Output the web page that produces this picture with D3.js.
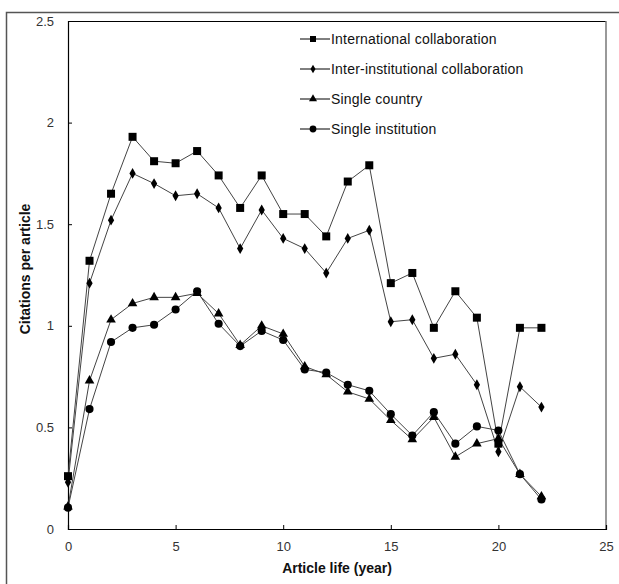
<!DOCTYPE html>
<html>
<head>
<meta charset="utf-8">
<script src="https://cdn.jsdelivr.net/npm/d3@7"></script>
<style>
  body { margin: 0; background: #fff; }
  svg { display: block; font-family: "Liberation Sans", Arial, sans-serif; }
</style>
</head>
<body>
<div id="chart-area"></div>
<script>
const years = d3.range(0, 23);
const international = [0.26, 1.32, 1.65, 1.93, 1.81, 1.80, 1.86, 1.74, 1.58, 1.74, 1.55, 1.55, 1.44, 1.71, 1.79, 1.21, 1.26, 0.99, 1.17, 1.04, 0.42, 0.99, 0.99];
const interInstitutional = [0.23, 1.21, 1.52, 1.75, 1.70, 1.64, 1.65, 1.58, 1.38, 1.57, 1.43, 1.38, 1.26, 1.43, 1.47, 1.02, 1.03, 0.84, 0.86, 0.71, 0.38, 0.70, 0.60];
const singleCountry = [0.11, 0.73, 1.03, 1.11, 1.14, 1.14, 1.16, 1.06, 0.905, 1.00, 0.96, 0.80, 0.76, 0.675, 0.64, 0.535, 0.44, 0.55, 0.355, 0.42, 0.445, 0.27, 0.16];
const singleInstitution = [0.105, 0.59, 0.92, 0.99, 1.005, 1.08, 1.17, 1.01, 0.90, 0.975, 0.93, 0.785, 0.77, 0.71, 0.68, 0.565, 0.46, 0.575, 0.42, 0.505, 0.485, 0.27, 0.145];
const xTicks = [0, 5, 10, 15, 20, 25];
const yTicks = [0, 0.5, 1, 1.5, 2, 2.5];

const seriesList = [
  {name: 'International collaboration', values: international, symbol: d3.symbolSquare, size: 64, legendSize: 36},
  {name: 'Inter-institutional collaboration', values: interInstitutional, symbol: d3.symbolDiamond, size: 34, legendSize: 22},
  {name: 'Single country', values: singleCountry, symbol: d3.symbolTriangle, size: 40, legendSize: 28},
  {name: 'Single institution', values: singleInstitution, symbol: d3.symbolCircle, size: 52, legendSize: 36}
];

const margin = {left: 68, right: 13, top: 21, bottom: 55};
const width = 606 - margin.left;
const height = 529 - margin.top;

const svg = d3.select('#chart-area').append('svg')
  .attr('width', 619)
  .attr('height', 584);

// outer frame
svg.append('rect')
  .attr('x', 6.5).attr('y', 12.5)
  .attr('width', 640).attr('height', 620)
  .attr('fill', 'none')
  .attr('stroke', '#555')
  .attr('stroke-width', 1.5);

const canvas = svg.append('g')
  .attr('transform', `translate(${margin.left}, ${margin.top})`);

const x = d3.scaleLinear().domain([0, 25]).range([0, width]);
const y = d3.scaleLinear().domain([0, 2.5]).range([height, 0]);

// plot frame
canvas.append('line').attr('x1', 0).attr('x2', width).attr('y1', 0.5).attr('y2', 0.5)
  .attr('stroke', '#000');
canvas.append('line').attr('x1', width).attr('x2', width).attr('y1', 0).attr('y2', height)
  .attr('stroke', '#777').attr('stroke-width', 1.5);

const xAxisGroup = canvas.append('g')
  .attr('transform', `translate(0, ${height})`)
  .call(d3.axisBottom(x).tickValues(xTicks).tickSize(-4).tickPadding(13).tickFormat(d3.format('d')));

const yAxisGroup = canvas.append('g')
  .call(d3.axisLeft(y).tickValues(yTicks).tickSize(-4).tickPadding(14).tickFormat(d => d));

[xAxisGroup, yAxisGroup].forEach(g => {
  g.select('.domain').attr('stroke', '#000').attr('stroke-width', 1.2);
  g.selectAll('.tick line').attr('stroke', '#000');
  g.selectAll('.tick text')
    .attr('fill', '#333')
    .style('font-size', '13px')
    .style('font-family', '"Liberation Sans", Arial, sans-serif');
});
xAxisGroup.selectAll('.tick').filter(d => d === 0).select('line').remove();
yAxisGroup.selectAll('.tick').filter(d => d === 0).select('line').remove();

canvas.append('text')
  .attr('x', width / 2)
  .attr('y', height + 44)
  .attr('text-anchor', 'middle')
  .attr('font-size', '14px')
  .attr('font-weight', 'bold')
  .attr('fill', '#111')
  .text('Article life (year)');

canvas.append('text')
  .attr('transform', `translate(${-38}, ${248}) rotate(-90)`)
  .attr('text-anchor', 'middle')
  .attr('font-size', '14px')
  .attr('font-weight', 'bold')
  .attr('fill', '#111')
  .text('Citations per article');

const line = d3.line()
  .x((d, i) => x(years[i]))
  .y(d => y(d));

seriesList.forEach(s => {
  canvas.append('path')
    .datum(s.values)
    .attr('fill', 'none')
    .attr('stroke', '#444')
    .attr('stroke-width', 1)
    .attr('d', line);
});

seriesList.forEach(s => {
  canvas.selectAll(null)
    .data(s.values)
    .enter()
    .append('path')
    .attr('transform', (d, i) => `translate(${x(years[i])}, ${y(d)})`)
    .attr('d', d3.symbol().type(s.symbol).size(s.size))
    .attr('fill', '#000');
});

const legend = svg.append('g')
  .attr('transform', 'translate(300, 39)');

seriesList.forEach((s, i) => {
  const row = legend.append('g')
    .attr('transform', `translate(0, ${i * 30})`);

  row.append('line')
    .attr('x1', 0).attr('x2', 30)
    .attr('y1', 0).attr('y2', 0)
    .attr('stroke', '#000');

  row.append('path')
    .attr('transform', 'translate(13, 0)')
    .attr('d', d3.symbol().type(s.symbol).size(s.legendSize))
    .attr('fill', '#000');

  row.append('text')
    .attr('x', 31)
    .attr('y', 5)
    .attr('font-size', '14px')
    .style('letter-spacing', '0.2px')
    .attr('fill', '#111')
    .text(s.name);
});
</script>
</body>
</html>
